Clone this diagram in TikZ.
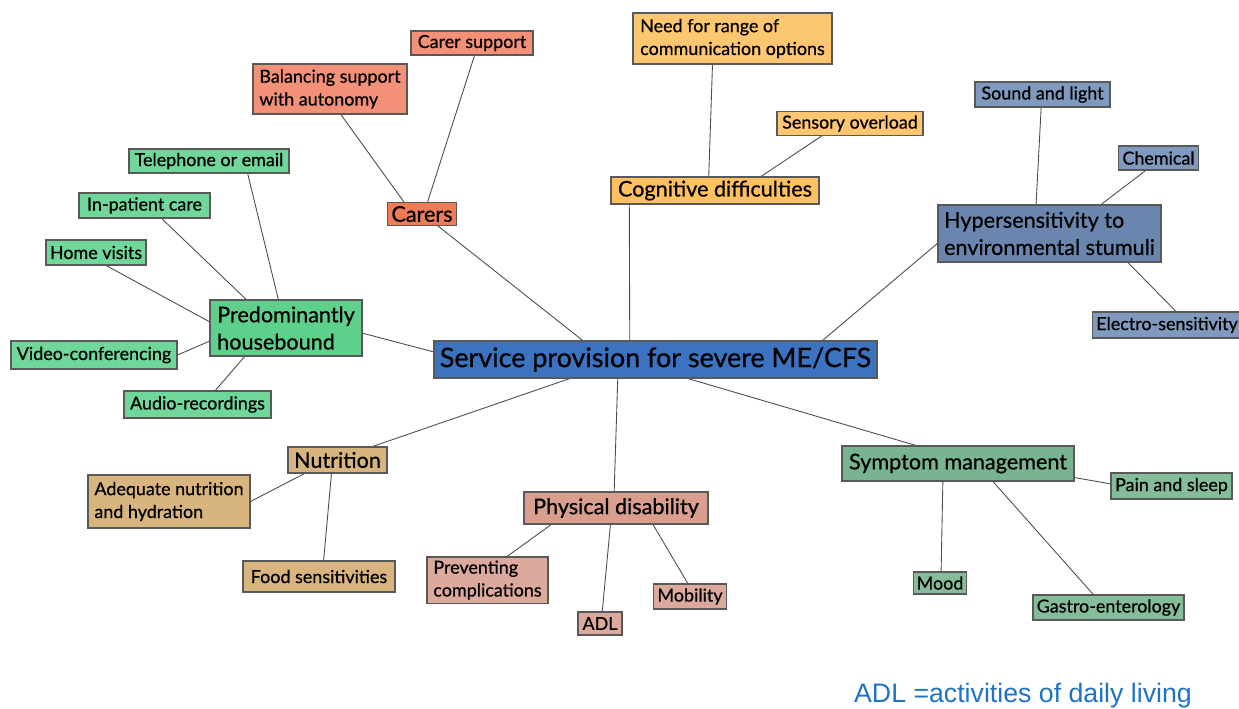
\documentclass[tikz,border=0pt]{standalone}
\usepackage{fontspec}
\setmainfont{Lato}[FakeBold=0.6]
\newfontfamily\notefont{Liberation Sans}
\usetikzlibrary{calc,backgrounds}
\definecolor{mainblue}{RGB}{59,115,192}
\definecolor{hbmain}{RGB}{94,208,140}
\definecolor{hbsub}{RGB}{112,215,155}
\definecolor{crmain}{RGB}{238,124,86}
\definecolor{crsub}{RGB}{243,145,120}
\definecolor{cgmain}{RGB}{255,193,96}
\definecolor{cgsub}{RGB}{253,198,112}
\definecolor{hymain}{RGB}{106,134,174}
\definecolor{hysub}{RGB}{128,153,190}
\definecolor{ntmain}{RGB}{216,180,127}
\definecolor{pdmain}{RGB}{217,158,142}
\definecolor{pdsub}{RGB}{219,170,157}
\definecolor{smmain}{RGB}{120,180,144}
\definecolor{smsub}{RGB}{133,189,154}
\definecolor{notecol}{RGB}{31,115,196}
% points along a side of a box
\newcommand{\nside}[2]{($(#1.north west)!#2!(#1.north east)$)}
\newcommand{\sside}[2]{($(#1.south west)!#2!(#1.south east)$)}
\newcommand{\wside}[2]{($(#1.north west)!#2!(#1.south west)$)}
\newcommand{\eside}[2]{($(#1.north east)!#2!(#1.south east)$)}
\tikzset{
  box/.style={draw=black!65, line width=0.6pt, inner sep=2pt, align=left},
  sz/.style 2 args={minimum width=#1*0.02cm, minimum height=#2*0.02cm},
  hub/.style={box, fill=mainblue, font=\fontsize{15.3}{18}\selectfont},
  topic/.style={box, font=\fontsize{12.3}{15.5}\selectfont},
  leaf/.style={box, font=\fontsize{10.2}{13}\selectfont},
  link/.style={draw=black!70, line width=0.5pt}
}

\begin{document}
\begin{tikzpicture}[x=0.02cm, y=-0.02cm]
  \useasboundingbox (0,0) rectangle (1239,708);

  % Centre
  \node[hub, sz={443}{37}] (hub) at (655.5,359.5) {Service provision for severe ME/CFS};

  % Predominantly housebound
  \node[topic, fill=hbmain, sz={152}{56}] (house) at (286,328) {Predominantly\\housebound};
  \node[leaf, fill=hbsub, sz={160}{24}] (phone) at (209,161) {Telephone or email};
  \node[leaf, fill=hbsub, sz={131}{25}] (inpat) at (144.5,205.5) {In-patient care};
  \node[leaf, fill=hbsub, sz={100}{25}] (visits) at (96,252.5) {Home visits};
  \node[leaf, fill=hbsub, sz={166}{28}] (video) at (94,355) {Video-conferencing};
  \node[leaf, fill=hbsub, sz={147}{27}] (audio) at (197.5,404.5) {Audio-recordings};

  % Carers
  \node[topic, fill=crmain, sz={66}{22}] (carers) at (422,214) {Carers};
  \node[leaf, fill=crsub, sz={154}{50}] (balance) at (330,89) {Balancing support\\with autonomy};
  \node[leaf, fill=crsub, sz={122}{24}] (carersup) at (472,43) {Carer support};

  % Cognitive difficulties
  \node[topic, fill=cgmain, sz={208}{27}] (cog) at (715,190.5) {Cognitive difficulties};
  \node[leaf, fill=cgsub, sz={199}{51}] (comms) at (732.5,38.5) {Need for range of\\communication options};
  \node[leaf, fill=cgsub, sz={146}{23}] (overload) at (850,123.5) {Sensory overload};

  % Hypersensitivity
  \node[topic, fill=hymain, sz={223}{57}] (hyper) at (1049.5,233.5) {Hypersensitivity to\\environmental stumuli};
  \node[leaf, fill=hysub, sz={135}{25}] (sound) at (1042.5,94.5) {Sound and light};
  \node[leaf, fill=hysub, sz={79}{24}] (chem) at (1158.5,158) {Chemical};
  \node[leaf, fill=hysub, sz={142}{26}] (electro) at (1167,325) {Electro-sensitivity};

  % Nutrition
  \node[topic, fill=ntmain, sz={99}{26}] (nutr) at (337.5,460) {Nutrition};
  \node[leaf, fill=ntmain, sz={162}{53}] (hydr) at (169,501.5) {Adequate nutrition\\and hydration};
  \node[leaf, fill=ntmain, sz={152}{31}] (food) at (319,576.5) {Food sensitivities};

  % Physical disability
  \node[topic, fill=pdmain, sz={184}{32}] (phys) at (616,508) {Physical disability};
  \node[leaf, fill=pdsub, sz={121}{46}] (prevent) at (487.5,580) {Preventing\\complications};
  \node[leaf, fill=pdsub, sz={44}{23}] (adl) at (600,623.5) {ADL};
  \node[leaf, fill=pdsub, sz={72}{25}] (mobil) at (690,596.5) {Mobility};

  % Symptom management
  \node[topic, fill=smmain, sz={232}{35}] (symp) at (958,463.5) {Symptom management};
  \node[leaf, fill=smsub, sz={121}{26}] (pain) at (1171.5,486) {Pain and sleep};
  \node[leaf, fill=smsub, sz={52}{22}] (mood) at (940,583) {Mood};
  \node[leaf, fill=smsub, sz={151}{25}] (gastro) at (1108.5,607.5) {Gastro-enterology};

  \node[font=\notefont\fontsize{15.2}{18}\selectfont, text=notecol, inner sep=0pt] (note) at (1023,696) {ADL =activities of daily living};

  % Links
  \begin{scope}[on background layer]
    \draw[link] \eside{house}{0.59} -- \wside{hub}{0.3};
    \draw[link] \sside{carers}{0.73} -- \nside{hub}{0.336};
    \draw[link] \sside{cog}{0.09} -- \nside{hub}{0.442};
    \draw[link] \wside{hyper}{0.67} -- \nside{hub}{0.876};
    \draw[link] \nside{nutr}{0.85} -- \sside{hub}{0.307};
    \draw[link] \nside{phys}{0.49} -- \sside{hub}{0.415};
    \draw[link] \nside{symp}{0.32} -- \sside{hub}{0.573};

    \draw[link] \sside{phone}{0.74} -- \nside{house}{0.45};
    \draw[link] \sside{inpat}{0.63} -- \nside{house}{0.24};
    \draw[link] \sside{visits}{0.6} -- \wside{house}{0.39};
    \draw[link] (video.east) -- \wside{house}{0.73};
    \draw[link] \nside{audio}{0.62} -- \sside{house}{0.23};

    \draw[link] \sside{balance}{0.57} -- \nside{carers}{0.24};
    \draw[link] \sside{carersup}{0.52} -- \nside{carers}{0.58};

    \draw[link] \sside{comms}{0.4} -- \nside{cog}{0.47};
    \draw[link] \sside{overload}{0.31} -- \nside{cog}{0.72};

    \draw[link] \sside{sound}{0.49} -- \nside{hyper}{0.44};
    \draw[link] \sside{chem}{0.34} -- \nside{hyper}{0.73};
    \draw[link] \nside{electro}{0.56} -- \sside{hyper}{0.85};

    \draw[link] (hydr.east) -- \sside{nutr}{0.17};
    \draw[link] \nside{food}{0.53} -- \sside{nutr}{0.44};

    \draw[link] \nside{prevent}{0.66} -- \sside{phys}{0.15};
    \draw[link] \nside{adl}{0.55} -- \sside{phys}{0.47};
    \draw[link] \nside{mobil}{0.47} -- \sside{phys}{0.70};

    \draw[link] \wside{pain}{0.42} -- \eside{symp}{0.89};
    \draw[link] \nside{mood}{0.52} -- \sside{symp}{0.435};
    \draw[link] \nside{gastro}{0.40} -- \sside{symp}{0.65};
  \end{scope}
\end{tikzpicture}
\end{document}
